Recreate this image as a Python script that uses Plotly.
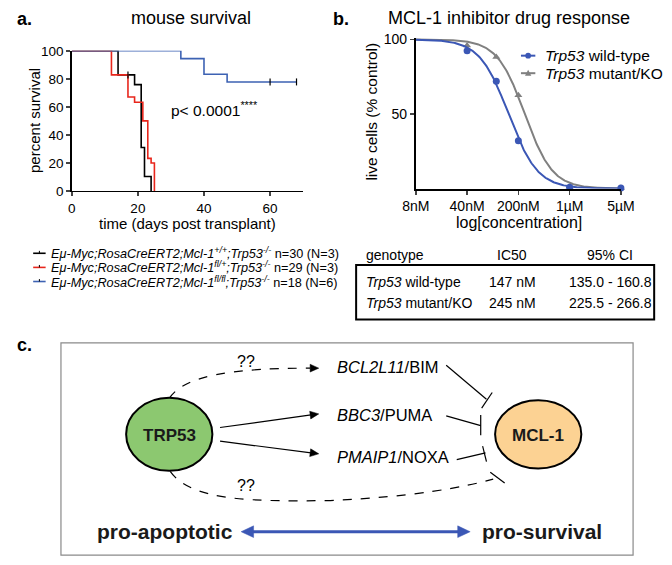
import numpy as np
import plotly.graph_objects as go

# ---------------- data ----------------
# panel a: Kaplan-Meier survival
a_black_t = [0, 14, 19, 21, 22, 24]
a_black_s = [100, 82.8, 75.9, 31.0, 10.3, 0]
a_red_t = [0, 12, 17, 19, 21.5, 23, 24, 25]
a_red_s = [100, 82.8, 67.0, 63.3, 50.0, 23.3, 20.0, 0]
a_blue_t = [0, 33, 40, 47, 68]
a_blue_s = [100, 94.4, 83.3, 77.8, 77.8]
a_black_cens_t = [17]
a_black_cens_s = [82.8]
a_blue_cens_t = [60, 68]
a_blue_cens_s = [77.8, 77.8]
a_legend = [
    "<i>Eμ-Myc;RosaCreERT2;Mcl-1<sup>+/+</sup>;Trp53<sup>-/-</sup></i> n=30 (N=3)",
    "<i>Eμ-Myc;RosaCreERT2;Mcl-1<sup>fl/+</sup>;Trp53<sup>-/-</sup></i> n=29 (N=3)",
    "<i>Eμ-Myc;RosaCreERT2;Mcl-1<sup>fl/fl</sup>;Trp53<sup>-/-</sup></i> n=18 (N=6)",
]
a_xticks = [0, 20, 40, 60]
a_yticks = [0, 20, 40, 60, 80, 100]

# panel b: dose response
b_conc = [8, 40, 100, 200, 1000, 5000]
b_wt = [98.5, 92.5, 72.0, 32.0, 0.8, 0.3]
b_mut = [99.5, 96.0, 88.3, 62.5, 1.2, 0.3]
b_ticks = [8, 40, 200, 1000, 5000]
b_ticktext = ["8nM", "40nM", "200nM", "1µM", "5µM"]
b_names = ["<i>Trp53</i> wild-type", "<i>Trp53</i> mutant/KO"]
b_ic50 = [147, 245]
b_hill = [2.2, 2.3]
b_ci = ["135.0 - 160.8", "225.5 - 266.8"]

FONT = "Liberation Sans, Arial, Helvetica, sans-serif"
W, H = 672, 565
RED = "#e8261c"
BLUE_A = "#3d62b3"
BLUE_B = "#3b57b5"
GRAY = "#808080"


def px(x):
    return x / W


def py(y):
    return 1 - y / H


fig = go.Figure()

# ---- panel a traces ----
for t, s, c in [(a_black_t, a_black_s, "black"), (a_red_t, a_red_s, RED), (a_blue_t, a_blue_s, BLUE_A)]:
    fig.add_trace(go.Scatter(x=t, y=s, mode="lines", line=dict(color=c, width=1.6, shape="hv"),
                             cliponaxis=False, showlegend=False, xaxis="x", yaxis="y"))
for t, s, c in [(a_black_cens_t, a_black_cens_s, "black"), (a_blue_cens_t, a_blue_cens_s, "black")]:
    fig.add_trace(go.Scatter(x=t, y=s, mode="markers",
                             marker=dict(symbol="line-ns", size=5, line=dict(color=c, width=1.2)),
                             cliponaxis=False, showlegend=False, xaxis="x", yaxis="y"))

# ---- panel b traces ----
xc = np.logspace(np.log10(b_conc[0]), np.log10(b_conc[-1]), 300)
curves = []
for ic, h in zip(b_ic50, b_hill):
    curves.append(100 / (1 + (xc / ic) ** h))
fig.add_trace(go.Scatter(x=xc, y=curves[1], mode="lines", line=dict(color=GRAY, width=2),
                         cliponaxis=False, showlegend=False, xaxis="x2", yaxis="y2"))
fig.add_trace(go.Scatter(x=b_conc, y=b_mut, mode="markers",
                         marker=dict(symbol="triangle-up", size=7, color=GRAY),
                         cliponaxis=False, showlegend=False, xaxis="x2", yaxis="y2"))
fig.add_trace(go.Scatter(x=xc, y=curves[0], mode="lines", line=dict(color=BLUE_B, width=2),
                         cliponaxis=False, showlegend=False, xaxis="x2", yaxis="y2"))
fig.add_trace(go.Scatter(x=b_conc, y=b_wt, mode="markers",
                         marker=dict(symbol="circle", size=7, color=BLUE_B),
                         cliponaxis=False, showlegend=False, xaxis="x2", yaxis="y2"))

# overlay axis in pixel units for annotations/diagram
fig.add_trace(go.Scatter(x=[], y=[], xaxis="x3", yaxis="y3", showlegend=False))

shapes = []
ann = []


def text(x, y, s, size, xanchor="center", bold=False, color="black", angle=0, yanchor="middle"):
    if bold:
        s = "<b>" + s + "</b>"
    ann.append(dict(x=x, y=y, xref="x3", yref="y3", text=s, showarrow=False, xanchor=xanchor,
                    yanchor=yanchor, textangle=angle, font=dict(family=FONT, size=size, color=color)))


def line(x0, y0, x1, y1, color="black", width=1.2, dash="solid"):
    shapes.append(dict(type="line", xref="x3", yref="y3", x0=x0, y0=y0, x1=x1, y1=y1,
                       line=dict(color=color, width=width, dash=dash), layer="above"))


def head(tip, frm, L=9, Wd=4, color="black"):
    tx, ty = tip
    dx, dy = tx - frm[0], ty - frm[1]
    n = (dx * dx + dy * dy) ** 0.5
    ux, uy = dx / n, dy / n
    bx, by = tx - ux * L, ty - uy * L
    p1 = (bx - uy * Wd, by + ux * Wd)
    p2 = (bx + uy * Wd, by - ux * Wd)
    shapes.append(dict(type="path", xref="x3", yref="y3",
                       path=f"M {tx},{ty} L {p1[0]},{p1[1]} L {p2[0]},{p2[1]} Z",
                       fillcolor=color, line=dict(color=color, width=0.5), layer="above"))


# ---- titles / labels ----
text(1, 12, "a.", 18, xanchor="left", bold=True)
text(185, 11, "mouse survival", 18)
text(331, 12, "b.", 18, xanchor="left", bold=True)
text(517, 11, "MCL-1 inhibitor drug response", 18)
text(22, 117, "percent survival", 15, angle=-90)
text(181, 222, "time (days post transplant)", 15)
text(162, 105, "p< 0.0001<sup>****</sup>", 15.5, xanchor="left")
text(373, 107, "live cells (% control)", 15.5, angle=-90)
text(527, 221, "log[concentration]", 16)

# ---- legend a ----
for i, (lab, c) in enumerate(zip(a_legend, ["black", RED, BLUE_A])):
    yy = 253 + i * 14.5
    line(20, yy, 33, yy, color=c, width=1.6)
    line(26.5, yy - 2.5, 26.5, yy, color="black", width=1)
    text(37, yy, lab, 12.7, xanchor="left")

# ---- legend b ----
for i, (lab, c) in enumerate(zip(b_names, [BLUE_B, GRAY])):
    yy = 50 + i * 18
    line(529, yy, 544, yy, color=c, width=2)
    if i == 0:
        shapes.append(dict(type="circle", xref="x3", yref="y3", x0=533.5, x1=539.5, y0=yy - 3, y1=yy + 3,
                           fillcolor=c, line=dict(color=c, width=0), layer="above"))
    else:
        shapes.append(dict(type="path", xref="x3", yref="y3",
                           path=f"M 536.5,{yy-3.5} L 539.8,{yy+2.5} L 533.2,{yy+2.5} Z",
                           fillcolor=c, line=dict(color=c, width=0), layer="above"))
    text(552, yy, lab, 15.5, xanchor="left")

# ---- table ----
tcol = [365, 520, 622]
text(tcol[0], 255, "genotype", 14, xanchor="left")
text(tcol[1], 255, "IC50", 14)
text(tcol[2], 255, "95% CI", 14)
shapes.append(dict(type="rect", xref="x3", yref="y3", x0=357, x1=668, y0=265, y1=321,
                   line=dict(color="black", width=2), layer="above"))
for i in range(2):
    yy = 283 + i * 21
    text(tcol[0], yy, b_names[i], 14, xanchor="left")
    text(tcol[1], yy, f"{b_ic50[i]} nM", 14)
    text(tcol[2], yy, b_ci[i], 14)

# ---- panel c ----
text(1, 347, "c.", 18, xanchor="left", bold=True)
shapes.append(dict(type="rect", xref="x3", yref="y3", x0=49, x1=646, y0=345, y1=563,
                   line=dict(color="#8a8a8a", width=1.2), layer="above"))
# dashed curves
shapes.append(dict(type="path", xref="x3", yref="y3", path="M 162,402 C 178,378 230,371 309,371",
                   line=dict(color="black", width=1.2, dash="dash"), layer="above"))
head((318, 371), (300, 371))
shapes.append(dict(type="path", xref="x3", yref="y3",
                   path="M 163,477 C 185,508 250,508 330,507 C 420,503 470,493 500,485",
                   line=dict(color="black", width=1.2, dash="dash"), layer="above"))
line(497, 478, 512, 489)
# solid arrows
line(215, 432, 310, 419)
head((318, 418), (215, 432))
line(215, 446, 310, 458)
head((318, 459), (215, 446))
# inhibition lines
line(451, 368, 493, 403)
line(488, 412, 499, 396)
line(451, 420, 487, 430)
line(487, 419, 487, 440)
line(462, 465, 492, 458)
line(489, 451, 493, 467)
# nodes
shapes.append(dict(type="circle", xref="x3", yref="y3", x0=117, x1=207, y0=401.5, y1=476.5,
                   fillcolor="#8cc870", line=dict(color="black", width=2), layer="above"))
shapes.append(dict(type="circle", xref="x3", yref="y3", x0=502, x1=592, y0=404, y1=474,
                   fillcolor="#fcd293", line=dict(color="black", width=2), layer="above"))
text(162, 440, "TRP53", 17, bold=True, color="#1a1a1a")
text(547, 440, "MCL-1", 17, bold=True, color="#1a1a1a")
text(335, 370, "<i>BCL2L11</i>/BIM", 16.5, xanchor="left")
text(335, 419, "<i>BBC3</i>/PUMA", 16.5, xanchor="left")
text(335, 462, "<i>PMAIP1</i>/NOXA", 16.5, xanchor="left")
text(242, 364, "??", 16)
text(242, 492, "??", 16)
# bottom double arrow
line(249, 539, 464, 539, color=BLUE_B, width=3)
head((237, 539), (260, 539), L=13, Wd=6, color=BLUE_B)
head((476, 539), (450, 539), L=13, Wd=6, color=BLUE_B)
text(231, 539, "pro-apoptotic", 21, xanchor="right", bold=True, color="#1a1a1a")
text(486, 539, "pro-survival", 21, xanchor="left", bold=True, color="#1a1a1a")

axfont = dict(family=FONT, size=13.5, color="black")
fig.update_layout(
    width=W, height=H, margin=dict(l=0, r=0, t=0, b=0),
    paper_bgcolor="white", plot_bgcolor="rgba(0,0,0,0)",
    showlegend=False, hovermode=False,
    xaxis=dict(domain=[px(60.3), px(301.7)], range=[0, 70], anchor="y", showgrid=False, zeroline=False,
               showline=True, linecolor="black", linewidth=1.5, ticks="outside", ticklen=4, tickwidth=1.5,
               tickvals=a_xticks, tickfont=axfont),
    yaxis=dict(domain=[py(189), py(45)], range=[0, 100], anchor="x", showgrid=False, zeroline=False,
               showline=True, linecolor="black", linewidth=1.5, ticks="outside", ticklen=4, tickwidth=1.5,
               tickvals=a_yticks, tickfont=axfont),
    xaxis2=dict(domain=[px(419.3), px(633.3)], type="log", range=[np.log10(8), np.log10(5000)], anchor="y2",
                showgrid=False, zeroline=False, showline=True, linecolor="black", linewidth=2,
                ticks="outside", ticklen=4, tickwidth=1.5, tickvals=b_ticks, ticktext=b_ticktext,
                tickfont=dict(family=FONT, size=14, color="black")),
    yaxis2=dict(domain=[py(186.5), py(31.8)], range=[0, 101], anchor="x2", showgrid=False, zeroline=False,
                showline=True, linecolor="black", linewidth=2, ticks="outside", ticklen=4, tickwidth=1.5,
                tickvals=[50, 100], tickfont=dict(family=FONT, size=14, color="black")),
    xaxis3=dict(domain=[0, 1], range=[0, W], anchor="y3", visible=False, fixedrange=True),
    yaxis3=dict(domain=[0, 1], range=[H, 0], anchor="x3", visible=False, fixedrange=True),
    shapes=shapes, annotations=ann,
)

fig.write_html("out.html", config={"displayModeBar": False, "staticPlot": True},
               post_script="document.body.style.margin='0';document.body.style.overflow='hidden';")
